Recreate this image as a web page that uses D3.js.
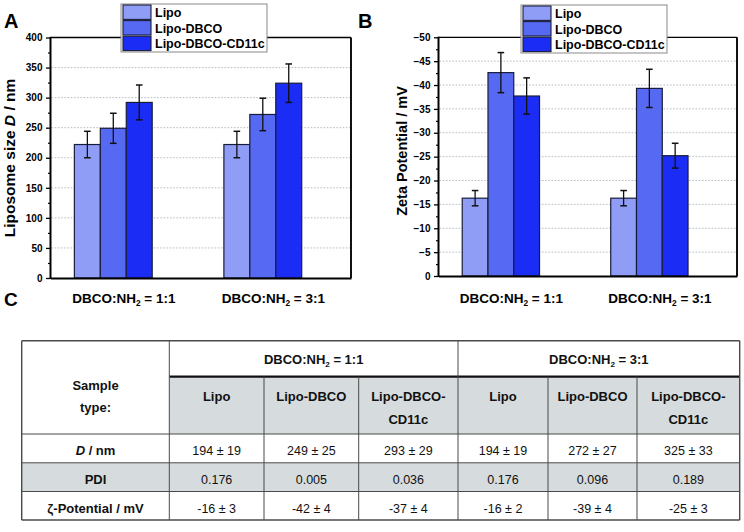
<!DOCTYPE html>
<html><head><meta charset="utf-8">
<script src="https://cdn.jsdelivr.net/npm/d3@7"></script>
<style>
body{margin:0;background:#fff;}
svg{display:block;font-family:"Liberation Sans",Arial,sans-serif;}
</style></head><body>
<svg id="fig" width="744" height="532"></svg>
<script>
// ---------- data ----------
const series = ["Lipo", "Lipo-DBCO", "Lipo-DBCO-CD11c"];
const ratios = ["1:1", "3:1"];
const groupPos = [1, 2];
// Panel A: liposome size D / nm
const sizeLipo = [222, 222];
const sizeDBCO = [249, 272];
const sizeCD11c = [292, 324];
const sizeErrLipo = [22, 22];
const sizeErrDBCO = [25, 27];
const sizeErrCD11c = [29, 32];
const sizeTicks = [0, 50, 100, 150, 200, 250, 300, 350, 400];
// Panel B: zeta potential / mV
const zetaLipo = [-16.3, -16.3];
const zetaDBCO = [-42.6, -39.3];
const zetaCD11c = [-37.7, -25.2];
const zetaErrLipo = [1.6, 1.6];
const zetaErrDBCO = [4.2, 4.0];
const zetaErrCD11c = [3.8, 2.6];
const zetaTicks = [0, -5, -10, -15, -20, -25, -30, -35, -40, -45, -50];
// Panel C: table
const tableSamples = [["Lipo"], ["Lipo-DBCO"], ["Lipo-DBCO-", "CD11c"], ["Lipo"], ["Lipo-DBCO"], ["Lipo-DBCO-", "CD11c"]];
const rowD = ["194 ± 19", "249 ± 25", "293 ± 29", "194 ± 19", "272 ± 27", "325 ± 33"];
const rowPDI = ["0.176", "0.005", "0.036", "0.176", "0.096", "0.189"];
const rowZeta = ["-16 ± 3", "-42 ± 4", "-37 ± 4", "-16 ± 2", "-39 ± 4", "-25 ± 3"];

const colors = ["#8f9df6", "#5669f2", "#1b2df4"];

const svg = d3.select("#fig");

function ratioLabel(sel, r) {
  sel.append("tspan").text("DBCO:NH");
  sel.append("tspan").attr("font-size", "0.62em").attr("dy", 3).text("2");
  sel.append("tspan").attr("dy", -3).text(" = " + r);
}

function panel(cfg) {
  const g = svg.append("g");
  const x = d3.scaleLinear().domain([0.58, 2.59]).range([cfg.left, cfg.right]);
  const y = d3.scaleLinear().domain(cfg.domain).range([cfg.bottom, cfg.top]);
  const bw = 0.1735; // bar width in x units
  // grid
  g.append("g").selectAll("line").data(cfg.ticks.slice(1, -1)).join("line")
    .attr("x1", cfg.left + 1).attr("x2", cfg.right - 1)
    .attr("y1", d => y(d)).attr("y2", d => y(d))
    .attr("stroke", "#b4bcc4").attr("stroke-width", 1).attr("stroke-dasharray", "1.6,1.6");
  // bars
  cfg.values.forEach((vals, si) => {
    vals.forEach((v, gi) => {
      const cx = groupPos[gi] + (si - 1) * bw;
      g.append("rect")
        .attr("x", x(cx - bw / 2)).attr("width", x(cx + bw / 2) - x(cx - bw / 2))
        .attr("y", y(v)).attr("height", y(cfg.domain[0]) - y(v))
        .attr("fill", colors[si]).attr("stroke", "#1a1d3a").attr("stroke-width", 1.2);
    });
  });
  // error bars
  cfg.values.forEach((vals, si) => {
    vals.forEach((v, gi) => {
      const cx = x(groupPos[gi] + (si - 1) * bw);
      const e = cfg.errs[si][gi];
      const sgn = cfg.domain[1] < 0 ? -1 : 1;
      const yt = y(v + sgn * e), yb = y(v - sgn * e);
      g.append("line").attr("x1", cx).attr("x2", cx).attr("y1", yt).attr("y2", yb)
        .attr("stroke", "#111").attr("stroke-width", 1.3);
      [yt, yb].forEach(yy => g.append("line").attr("x1", cx - 3.3).attr("x2", cx + 3.3)
        .attr("y1", yy).attr("y2", yy).attr("stroke", "#111").attr("stroke-width", 1.5));
    });
  });
  // minor ticks
  const minor = [];
  for (let i = 0; i < cfg.ticks.length - 1; i++) minor.push((cfg.ticks[i] + cfg.ticks[i + 1]) / 2);
  g.append("g").attr("transform", `translate(${cfg.left},0)`)
    .call(d3.axisLeft(y).tickValues(minor).tickSize(2.5).tickFormat(""))
    .call(a => a.select(".domain").remove())
    .selectAll("line").attr("stroke", "#000").attr("stroke-width", 1.2);
  // major ticks
  const ya = g.append("g").attr("transform", `translate(${cfg.left},0)`)
    .call(d3.axisLeft(y).tickValues(cfg.ticks).tickSize(4.5).tickPadding(3.5).tickFormat(d3.format("d")));
  ya.select(".domain").remove();
  ya.selectAll("line").attr("stroke", "#000").attr("stroke-width", 1.3);
  ya.selectAll("text").attr("font-size", 10).attr("font-weight", "bold").attr("fill", "#000")
    .attr("font-family", "'Liberation Sans',Arial,sans-serif");
  // frame
  g.append("line").attr("x1", cfg.left).attr("x2", cfg.right).attr("y1", cfg.top).attr("y2", cfg.top)
    .attr("stroke", "#000").attr("stroke-width", 1.3);
  g.append("line").attr("x1", cfg.right).attr("x2", cfg.right).attr("y1", cfg.top).attr("y2", cfg.bottom)
    .attr("stroke", "#111").attr("stroke-width", 2);
  g.append("line").attr("x1", cfg.left).attr("x2", cfg.left).attr("y1", cfg.top - 0.6).attr("y2", cfg.bottom + 1)
    .attr("stroke", "#000").attr("stroke-width", 2);
  // x axis
  const xa = g.append("g").attr("transform", `translate(0,${cfg.bottom})`)
    .call(d3.axisBottom(x).tickValues(groupPos).tickSize(0).tickFormat(""));
  xa.select(".domain").attr("stroke", "#000").attr("stroke-width", 2);
  xa.selectAll(".tick").each(function (d, i) {
    const t = d3.select(this).append("text").attr("x", 10).attr("y", cfg.labelY - cfg.bottom)
      .attr("text-anchor", "middle").attr("font-size", 13.5).attr("font-weight", "bold").attr("fill", "#000");
    ratioLabel(t, ratios[i]);
  });
  // y label
  const yl = g.append("text").attr("transform", `translate(${cfg.ylx},${cfg.yly}) rotate(-90)`)
    .attr("text-anchor", "middle").attr("font-size", cfg.ylSize).attr("font-weight", "bold");
  cfg.ylabel(yl);
  // legend
  const lg = g.append("g").attr("transform", `translate(${cfg.legX},${cfg.legY})`);
  lg.append("rect").attr("x", 0).attr("y", 0).attr("width", 146).attr("height", 48)
    .attr("fill", "#fff").attr("stroke", "#8a8a8a").attr("stroke-width", 1);
  series.forEach((s, i) => {
    lg.append("rect").attr("x", 2).attr("y", 1 + i * 15.6).attr("width", 28).attr("height", 14.4)
      .attr("fill", colors[i]).attr("stroke", "#1a1d3a").attr("stroke-width", 1.1);
    lg.append("text").attr("x", 34).attr("y", 13 + i * 15.6).attr("font-size", 12.5)
      .attr("font-weight", "bold").attr("fill", "#000").text(s);
  });
  // panel letter
  svg.append("text").attr("x", cfg.letterX).attr("y", 28).attr("font-size", 20).attr("font-weight", "bold").text(cfg.letter);
}

panel({
  left: 50.5, right: 351, top: 37.5, bottom: 278, domain: [0, 400], ticks: sizeTicks,
  values: [sizeLipo, sizeDBCO, sizeCD11c], errs: [sizeErrLipo, sizeErrDBCO, sizeErrCD11c],
  labelY: 303, ylx: 14.5, yly: 158, ylSize: 15.5,
  ylabel: t => { t.append("tspan").text("Liposome size "); t.append("tspan").attr("font-style", "italic").text("D"); t.append("tspan").text(" / nm"); },
  legX: 121, legY: 4, letter: "A", letterX: 4
});
panel({
  left: 438.5, right: 737, top: 37.3, bottom: 276, domain: [0, -50], ticks: zetaTicks,
  values: [zetaLipo, zetaDBCO, zetaCD11c], errs: [zetaErrLipo, zetaErrDBCO, zetaErrCD11c],
  labelY: 303, ylx: 406.5, yly: 151, ylSize: 14.5,
  ylabel: t => { t.text("Zeta Potential / mV"); },
  legX: 521, legY: 5, letter: "B", letterX: 358
});

// ---------- Table C ----------
svg.append("text").attr("x", 4).attr("y", 306).attr("font-size", 19).attr("font-weight", "bold").text("C");
const tg = svg.append("g");
const colX = [21.7, 169.3, 264, 358.7, 458, 548, 637, 739.7];
const rowY = [340.7, 376.7, 434, 462.8, 491.5, 520];
const shade = "#d6dcdd", border = "#4a4a4a";
// fills
tg.append("rect").attr("x", colX[1]).attr("y", rowY[1]).attr("width", colX[7] - colX[1]).attr("height", rowY[2] - rowY[1]).attr("fill", shade);
tg.append("rect").attr("x", colX[0]).attr("y", rowY[3]).attr("width", colX[7] - colX[0]).attr("height", rowY[4] - rowY[3]).attr("fill", shade);
// horizontal lines
[[0, 0, 7], [2, 0, 7], [3, 0, 7], [4, 0, 7], [5, 0, 7]].forEach(([r, c0, c1]) =>
  tg.append("line").attr("x1", colX[c0]).attr("x2", colX[c1]).attr("y1", rowY[r]).attr("y2", rowY[r])
    .attr("stroke", border).attr("stroke-width", r === 0 || r === 5 ? 1.4 : 1));
tg.append("line").attr("x1", colX[1]).attr("x2", colX[7]).attr("y1", rowY[1]).attr("y2", rowY[1])
  .attr("stroke", "#111").attr("stroke-width", 2.2);
// vertical lines
colX.forEach((cx, i) => {
  const full = (i === 0 || i === 1 || i === 4 || i === 7);
  tg.append("line").attr("x1", cx).attr("x2", cx).attr("y1", full ? rowY[0] : rowY[1]).attr("y2", rowY[5])
    .attr("stroke", border).attr("stroke-width", (i === 0 || i === 7) ? 1.4 : 1);
});
function cellText(x, y, weight) {
  return tg.append("text").attr("x", x).attr("y", y).attr("text-anchor", "middle")
    .attr("font-size", weight === "bold" ? 13 : 12.5).attr("font-weight", weight).attr("fill", "#111");
}
const mid = (a, b) => (a + b) / 2;
// group headers
ratioLabel(cellText(mid(colX[1], colX[4]), 363.5, "bold"), ratios[0]);
ratioLabel(cellText(mid(colX[4], colX[7]), 363.5, "bold"), ratios[1]);
// sample type
cellText(mid(colX[0], colX[1]), 389.5, "bold").text("Sample");
cellText(mid(colX[0], colX[1]), 412, "bold").text("type:");
tableSamples.forEach((lines, i) => {
  lines.forEach((l, j) => cellText(mid(colX[i + 1], colX[i + 2]), 401 + j * 22.5, "bold").text(l));
});
// row labels
const dl = cellText(mid(colX[0], colX[1]), 454.5, "bold");
dl.append("tspan").attr("font-style", "italic").text("D");
dl.append("tspan").text(" / nm");
cellText(mid(colX[0], colX[1]), 484, "bold").text("PDI");
cellText(mid(colX[0], colX[1]), 512.5, "bold").text("ζ-Potential / mV");
[[rowD, 454.5], [rowPDI, 484], [rowZeta, 512.5]].forEach(([row, yy]) => {
  row.forEach((v, i) => cellText(mid(colX[i + 1], colX[i + 2]), yy, "normal").text(v));
});
</script>
</body></html>
